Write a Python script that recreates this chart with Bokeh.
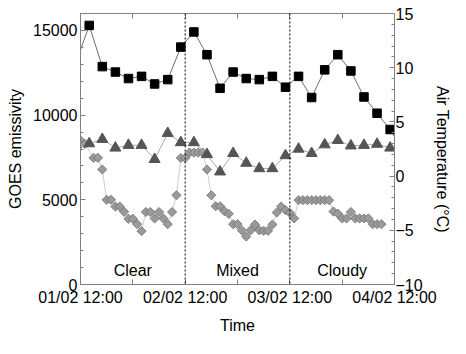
import numpy as np
from bokeh.plotting import figure
from bokeh.layouts import row
from bokeh.models import Range1d, LinearAxis, FixedTicker, Span
from bokeh.embed import file_html
from bokeh.resources import INLINE
from bokeh.core.properties import value

# x positions are hours after 01/02 12:00
X_MAJOR = [0, 24, 48, 72]
X_TICK_LABELS = ["01/02 12:00", "02/02 12:00", "03/02 12:00", "04/02 12:00"]
X_MINOR = [12, 36, 60]

REGION_HOURS = [12, 36, 60]
REGION_NAMES = ["Clear", "Mixed", "Cloudy"]
REGION_BOUNDS = [24, 48]

# 3-hourly series (right axis, deg C)
SQ_HOURS = [-1, 2, 5, 8, 11, 14, 17, 20, 23, 26, 29, 32, 35, 38, 41, 44, 47,
            50, 53, 56, 59, 62, 65, 68, 71, 74]
AIR_TEMP = [10.5, 13.9, 10.1, 9.6, 9.0, 9.2, 8.5, 8.9, 11.9, 13.3, 11.2, 8.1,
            9.6, 9.0, 8.9, 9.2, 8.2, 9.2, 7.25, 9.8, 11.2, 9.7, 7.3, 5.8, 4.3, 2.3]
TRI_TEMP = [2.9, 3.0, 3.4, 2.6, 2.85, 2.85, 1.55, 3.95, 3.1, 3.1, 2.0, 0.4,
            2.1, 1.2, 0.7, 0.7, 1.9, 2.5, 2.1, 2.9, 3.3, 2.8, 2.85, 2.95, 2.6, 2.6]

# hourly GOES series (left axis)
DIAM_HOURS = [0, 1, 3, 4, 5, 6, 7, 8, 9, 10, 11, 12, 13, 14, 15, 16, 17, 18, 19,
              20, 21, 22, 23, 24, 25, 26, 27, 28, 29, 30, 31, 32, 33, 34, 35, 36,
              37, 38, 39, 40, 41, 42, 43, 44, 45, 46, 47, 48, 49, 50, 51, 52, 53,
              54, 55, 56, 57, 58, 59, 60, 61, 62, 63, 64, 65, 66, 67, 68, 69]
GOES_EMIS = [8500, 8300, 7480, 7480, 6790, 5000, 5000, 4600, 4600, 4290, 3880,
             3880, 3560, 3150, 4280, 4280, 3900, 4280, 3900, 3560, 4280, 5270,
             7470, 7470, 7790, 7790, 7790, 7790, 6790, 5270, 4620, 4620, 4330,
             4170, 3560, 3560, 3200, 2830, 3200, 3540, 3200, 3170, 3170, 3540,
             4250, 4600, 4390, 4230, 3900, 4980, 4980, 4980, 4980, 4980, 4980,
             4980, 4980, 4310, 4190, 3900, 3900, 4280, 3900, 3900, 3900, 3900,
             3560, 3560, 3560]

FONT = "Liberation Sans"
GRAY = "#808080"
RIGHT_TITLE = "Air Temperature (°C)"

p = figure(frame_width=314, frame_height=271,
           x_range=Range1d(0, 72), y_range=Range1d(0, 16000),
           output_backend="svg", toolbar_location=None,
           min_border_left=80, min_border_right=60,
           min_border_top=13, min_border_bottom=54)
p.extra_y_ranges = {"temp": Range1d(-10, 15)}
p.outline_line_color = GRAY
p.grid.visible = False
p.background_fill_color = "white"
p.border_fill_color = "white"


def style_axis(ax):
    ax.axis_line_color = GRAY
    ax.major_tick_line_color = GRAY
    ax.minor_tick_line_color = GRAY
    ax.major_tick_in = 5
    ax.major_tick_out = 0
    ax.minor_tick_in = 3
    ax.minor_tick_out = 0
    ax.major_label_text_font = FONT
    ax.major_label_text_font_size = "16px"
    ax.major_label_text_color = "black"
    ax.axis_label_text_font = FONT
    ax.axis_label_text_font_size = "16px"
    ax.axis_label_text_font_style = "normal"
    ax.axis_label_text_color = "black"


xa = p.xaxis[0]
xa.ticker = FixedTicker(ticks=X_MAJOR, minor_ticks=X_MINOR)
xa.major_label_overrides = {t: l for t, l in zip(X_MAJOR, X_TICK_LABELS)}
xa.axis_label = "Time"
style_axis(xa)
xa.minor_tick_in = 5
xa.major_label_standoff = 4
xa.axis_label_standoff = 8

ya = p.yaxis[0]
ya.ticker = FixedTicker(ticks=[0, 5000, 10000, 15000],
                        minor_ticks=list(range(0, 16001, 1000)))
ya.axis_label = "GOES emissivity"
style_axis(ya)
ya.major_label_standoff = 3
ya.axis_label_standoff = 6

ra = LinearAxis(y_range_name="temp",
                ticker=FixedTicker(ticks=[-10, -5, 0, 5, 10, 15],
                                   minor_ticks=list(range(-10, 16))))
style_axis(ra)
ra.major_label_standoff = 1
p.add_layout(ra, "right")

# top axis: only tick marks (as minor ticks, which carry no labels)
ta = LinearAxis(ticker=FixedTicker(ticks=[], minor_ticks=X_MAJOR + X_MINOR))
style_axis(ta)
ta.minor_tick_in = 5
ta.major_label_standoff = 0
p.add_layout(ta, "above")

for b in REGION_BOUNDS:
    p.add_layout(Span(location=b, dimension="height", line_color="black",
                      line_width=1, line_dash="2 2"))

# GOES diamonds
p.line(DIAM_HOURS, GOES_EMIS, line_color="#cccccc", line_width=1)
p.scatter(DIAM_HOURS, GOES_EMIS, marker="square", angle=np.pi / 4, size=6.5,
          fill_color="#9a9a9a", line_color="#6e6e6e", line_width=0.8)

# triangles
p.line(SQ_HOURS, TRI_TEMP, y_range_name="temp", line_color="#aaaaaa", line_width=1)
p.scatter(SQ_HOURS, TRI_TEMP, y_range_name="temp", marker="triangle", size=11,
          fill_color="#555555", line_color="#555555")

# air temperature squares
p.line(SQ_HOURS, AIR_TEMP, y_range_name="temp", line_color="#6e6e6e", line_width=1)
p.scatter(SQ_HOURS, AIR_TEMP, y_range_name="temp", marker="square", size=8.5,
          fill_color="black", line_color="black")

p.text(x=REGION_HOURS, y=[800] * 3, text=REGION_NAMES,
       text_font=value(FONT), text_font_size="16px", text_color="black",
       text_align="center", text_baseline="middle")

# transparent overlay panel over the right border carrying the right-hand
# axis title (reads top to bottom)
side = figure(width=60, height=338, x_range=Range1d(0, 60), y_range=Range1d(0, 338),
              output_backend="svg", toolbar_location=None,
              min_border=0, outline_line_color=None,
              background_fill_color=None, border_fill_color=None)
side.margin = (0, 0, 0, -60)
side.axis.visible = False
side.grid.visible = False
side.text(x=[48], y=[156], text=[RIGHT_TITLE], angle=-np.pi / 2,
          text_font=value(FONT), text_font_size="16px", text_color="black",
          text_align="center", text_baseline="middle")

layout = row(p, side, spacing=0)
open("out.html", "w").write(file_html(layout, INLINE))
